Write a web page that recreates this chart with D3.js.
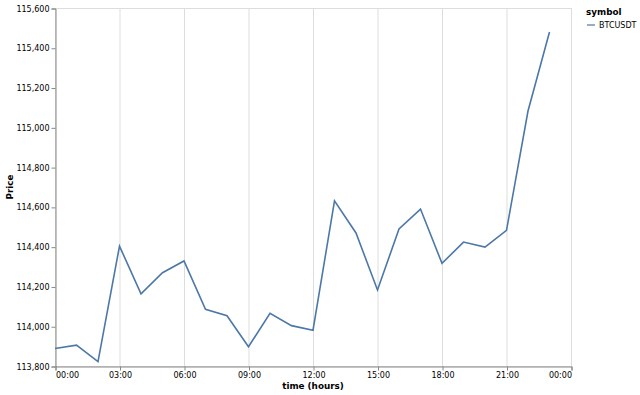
<!DOCTYPE html>
<html>
<head>
<meta charset="utf-8">
<script src="https://cdn.jsdelivr.net/npm/d3@7"></script>
<style>
  body { margin: 0; background: #fff; }
  text { font-family: "DejaVu Sans", sans-serif; }
</style>
</head>
<body>
<div id="chart"></div>
<script>
// hourly BTCUSDT prices
const hours = d3.range(0, 24);
const prices = [
  113888, 113905, 113822, 114403, 114163, 114269, 114328, 114085,
  114053, 113897, 114065, 114003, 113980, 114630, 114469, 114182,
  114489, 114589, 114316, 114423, 114398, 114482, 115082, 115479
];
const yTicks = d3.range(113800, 115601, 200);
const xTicks = d3.range(0, 25, 3);
const symbols = ["BTCUSDT"];

const W = 640, H = 395;
const margin = { top: 8, right: 69, bottom: 29, left: 55 };
const width = W - margin.left - margin.right;
const height = H - margin.top - margin.bottom;

const svg = d3.select("#chart").append("svg")
  .attr("width", W)
  .attr("height", H);

const g = svg.append("g")
  .attr("transform", `translate(${margin.left},${margin.top})`);

const x = d3.scaleLinear().domain([0, 24]).range([0, width]);
const y = d3.scaleLinear().domain([113800, 115600]).range([height, 0]);

// view border
g.append("rect")
  .attr("x", 0.5).attr("y", 0.5)
  .attr("width", width).attr("height", height)
  .attr("fill", "none")
  .attr("stroke", "#ddd");

// vertical grid
g.append("g")
  .selectAll("line")
  .data(xTicks)
  .join("line")
  .attr("x1", d => x(d) + 0.5).attr("x2", d => x(d) + 0.5)
  .attr("y1", 0).attr("y2", height)
  .attr("stroke", "#ddd");

const fmtHour = d => String(d % 24).padStart(2, "0") + ":00";

// x axis
const xAxis = g.append("g")
  .attr("transform", `translate(0.5,${height + 0.5})`)
  .call(d3.axisBottom(x).tickValues(xTicks).tickFormat(fmtHour).tickSize(4).tickPadding(2));
xAxis.selectAll("text")
  .attr("font-size", 8)
  .attr("fill", "#000")
  .attr("text-anchor", (d, i) => i === 0 ? "start" : (i === xTicks.length - 1 ? "end" : "middle"));

// y axis
const yAxis = g.append("g")
  .attr("transform", "translate(0.5,0.5)")
  .call(d3.axisLeft(y).tickValues(yTicks).tickFormat(d3.format(",")).tickSize(4).tickPadding(2));
yAxis.selectAll("text").attr("font-size", 8).attr("fill", "#000");

[xAxis, yAxis].forEach(a => {
  a.select(".domain").attr("stroke", "#888");
  a.selectAll(".tick line").attr("stroke", "#888");
  a.attr("font-family", null);
});

// the line
const line = d3.line()
  .x((d, i) => x(hours[i]))
  .y(d => y(d));

g.append("path")
  .datum(prices)
  .attr("fill", "none")
  .attr("stroke", "#4c78a8")
  .attr("stroke-width", 1.6)
  .attr("d", line);

// axis titles
svg.append("text")
  .attr("x", margin.left + width / 2)
  .attr("y", 389)
  .attr("text-anchor", "middle")
  .attr("font-size", 8.8)
  .attr("font-weight", "bold")
  .text("time (hours)");

svg.append("text")
  .attr("transform", `translate(13,${margin.top + height / 2}) rotate(-90)`)
  .attr("text-anchor", "middle")
  .attr("font-size", 8.8)
  .attr("font-weight", "bold")
  .text("Price");

// legend
const legend = svg.append("g").attr("transform", "translate(586,0)");
legend.append("text")
  .attr("x", 0).attr("y", 15)
  .attr("font-size", 8.8)
  .attr("font-weight", "bold")
  .text("symbol");
const item = legend.selectAll("g.item")
  .data(symbols)
  .join("g")
  .attr("class", "item")
  .attr("transform", (d, i) => `translate(0,${25 + i * 13})`);
item.append("line")
  .attr("x1", 1).attr("x2", 9)
  .attr("y1", 0).attr("y2", 0)
  .attr("stroke", "#4c78a8")
  .attr("stroke-width", 1.2);
item.append("text")
  .attr("x", 13).attr("y", 3)
  .attr("font-size", 8)
  .text(d => d);
</script>
</body>
</html>
